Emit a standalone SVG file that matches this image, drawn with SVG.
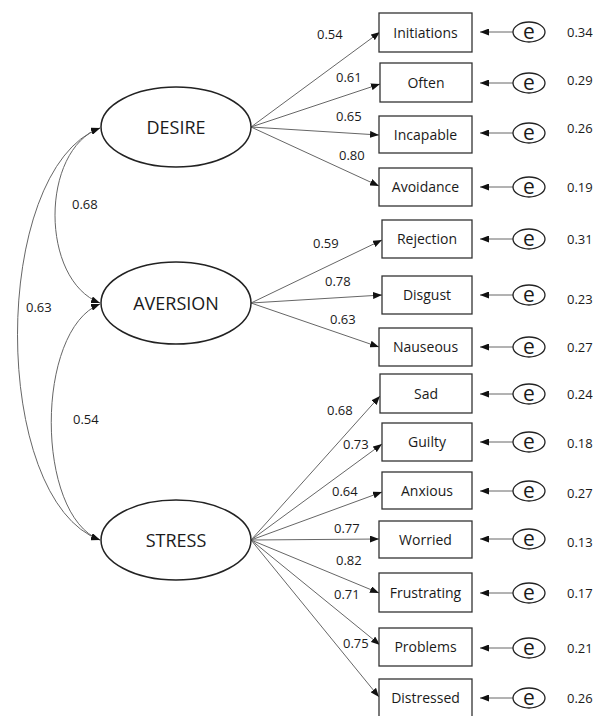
<svg xmlns="http://www.w3.org/2000/svg" width="593" height="716" viewBox="0 0 593 716">
<style>
.bg{fill:#fff}
.lat{fill:#fff;stroke:#222;stroke-width:1.5}
.box{fill:#fff;stroke:#333;stroke-width:1.3}
.err{fill:#fff;stroke:#222;stroke-width:1.3}
.conn{fill:none;stroke:#666;stroke-width:1}
.t{font-family:"Open Sans","Liberation Sans",sans-serif;fill:#1a1a1a}
.lt{font-size:18px;text-anchor:middle}
.bt{font-size:14px;text-anchor:middle}
.et{font-size:21px;text-anchor:middle}
.nt{font-size:13px}
</style>
<defs>
<marker id="ah" markerUnits="userSpaceOnUse" markerWidth="9" markerHeight="7" refX="9" refY="3.5" orient="auto-start-reverse">
<path d="M0,0 L9,3.5 L0,7 z" fill="#111"/>
</marker>
</defs>
<rect class="bg" x="0" y="0" width="593" height="716"/>

<g id="connectors">
<path class="conn" d="M100,128 C40,150 40,280 100,303" marker-start="url(#ah)" marker-end="url(#ah)"/>
<path class="conn" d="M100,304 C35,330 35,515 100,540" marker-start="url(#ah)" marker-end="url(#ah)"/>
<path class="conn" d="M100,128 C-10,170 -10,500 100,540" marker-start="url(#ah)" marker-end="url(#ah)"/>

<line class="conn" x1="251" y1="127" x2="380" y2="32" marker-end="url(#ah)"/>
<line class="conn" x1="251" y1="127" x2="380" y2="84" marker-end="url(#ah)"/>
<line class="conn" x1="251" y1="127" x2="379" y2="135" marker-end="url(#ah)"/>
<line class="conn" x1="251" y1="127" x2="379" y2="186" marker-end="url(#ah)"/>

<line class="conn" x1="251" y1="303" x2="382" y2="240" marker-end="url(#ah)"/>
<line class="conn" x1="251" y1="303" x2="382" y2="295" marker-end="url(#ah)"/>
<line class="conn" x1="251" y1="303" x2="379" y2="347" marker-end="url(#ah)"/>

<line class="conn" x1="251" y1="540" x2="380" y2="396" marker-end="url(#ah)"/>
<line class="conn" x1="251" y1="540" x2="382" y2="444" marker-end="url(#ah)"/>
<line class="conn" x1="251" y1="540" x2="382" y2="492" marker-end="url(#ah)"/>
<line class="conn" x1="251" y1="540" x2="379" y2="539" marker-end="url(#ah)"/>
<line class="conn" x1="251" y1="540" x2="379" y2="593" marker-end="url(#ah)"/>
<line class="conn" x1="251" y1="540" x2="380" y2="645" marker-end="url(#ah)"/>
<line class="conn" x1="251" y1="540" x2="379" y2="697" marker-end="url(#ah)"/>

<line class="conn" x1="513" y1="32" x2="480" y2="32" marker-end="url(#ah)"/>
<line class="conn" x1="513" y1="83" x2="480" y2="83" marker-end="url(#ah)"/>
<line class="conn" x1="513" y1="133" x2="480" y2="133" marker-end="url(#ah)"/>
<line class="conn" x1="513" y1="187" x2="480" y2="187" marker-end="url(#ah)"/>
<line class="conn" x1="513" y1="239" x2="480" y2="239" marker-end="url(#ah)"/>
<line class="conn" x1="513" y1="295" x2="480" y2="295" marker-end="url(#ah)"/>
<line class="conn" x1="513" y1="347" x2="480" y2="347" marker-end="url(#ah)"/>
<line class="conn" x1="513" y1="394" x2="480" y2="394" marker-end="url(#ah)"/>
<line class="conn" x1="513" y1="442" x2="480" y2="442" marker-end="url(#ah)"/>
<line class="conn" x1="513" y1="491" x2="480" y2="491" marker-end="url(#ah)"/>
<line class="conn" x1="513" y1="539" x2="480" y2="539" marker-end="url(#ah)"/>
<line class="conn" x1="513" y1="593" x2="480" y2="593" marker-end="url(#ah)"/>
<line class="conn" x1="513" y1="648" x2="480" y2="648" marker-end="url(#ah)"/>
<line class="conn" x1="513" y1="698" x2="480" y2="698" marker-end="url(#ah)"/>

<g class="t nt">
<text x="72" y="209">0.68</text>
<text x="26" y="312">0.63</text>
<text x="73" y="424">0.54</text>
<text x="317" y="39">0.54</text>
<text x="336" y="82">0.61</text>
<text x="336" y="121">0.65</text>
<text x="339" y="160">0.80</text>
<text x="313" y="248">0.59</text>
<text x="325" y="286">0.78</text>
<text x="330" y="324">0.63</text>
<text x="327" y="415">0.68</text>
<text x="343" y="449">0.73</text>
<text x="332" y="496">0.64</text>
<text x="334" y="533">0.77</text>
<text x="336" y="565">0.82</text>
<text x="334" y="599">0.71</text>
<text x="343" y="648">0.75</text>
</g>
</g>

<g id="DESIRE"><ellipse class="lat" cx="176" cy="127" rx="75" ry="40"/><text class="t lt" x="176" y="133.5">DESIRE</text></g>
<g id="AVERSION"><ellipse class="lat" cx="176" cy="303" rx="75" ry="41"/><text class="t lt" x="176" y="309.5">AVERSION</text></g>
<g id="STRESS"><ellipse class="lat" cx="176" cy="540" rx="75" ry="40"/><text class="t lt" x="176" y="546.5">STRESS</text></g>

<g id="Initiations"><rect class="box" x="379" y="13" width="93" height="39"/><text class="t bt" x="425.5" y="37.5">Initiations</text></g>
<g id="Often"><rect class="box" x="380" y="63" width="92" height="39"/><text class="t bt" x="426" y="87.5">Often</text></g>
<g id="Incapable"><rect class="box" x="379" y="116" width="93" height="37"/><text class="t bt" x="425.5" y="139.5">Incapable</text></g>
<g id="Avoidance"><rect class="box" x="379" y="168" width="93" height="38"/><text class="t bt" x="425.5" y="192">Avoidance</text></g>
<g id="Rejection"><rect class="box" x="382" y="220" width="90" height="38"/><text class="t bt" x="427" y="244">Rejection</text></g>
<g id="Disgust"><rect class="box" x="382" y="276" width="90" height="38"/><text class="t bt" x="427" y="300">Disgust</text></g>
<g id="Nauseous"><rect class="box" x="379" y="328" width="93" height="38"/><text class="t bt" x="425.5" y="352">Nauseous</text></g>
<g id="Sad"><rect class="box" x="380" y="374" width="92" height="39"/><text class="t bt" x="426" y="398.5">Sad</text></g>
<g id="Guilty"><rect class="box" x="382" y="423" width="90" height="38"/><text class="t bt" x="427" y="447">Guilty</text></g>
<g id="Anxious"><rect class="box" x="382" y="472" width="90" height="37"/><text class="t bt" x="427" y="495.5">Anxious</text></g>
<g id="Worried"><rect class="box" x="379" y="521" width="93" height="37"/><text class="t bt" x="425.5" y="544.5">Worried</text></g>
<g id="Frustrating"><rect class="box" x="379" y="573" width="93" height="39"/><text class="t bt" x="425.5" y="597.5">Frustrating</text></g>
<g id="Problems"><rect class="box" x="379" y="628" width="93" height="38"/><text class="t bt" x="425.5" y="652">Problems</text></g>
<g id="Distressed"><rect class="box" x="379" y="679" width="93" height="39"/><text class="t bt" x="425.5" y="703">Distressed</text></g>

<g id="errors">
<g id="e1"><ellipse class="err" cx="529" cy="32" rx="16" ry="10"/><text class="t et" x="529" y="38.5">e</text><text class="t nt" x="567" y="37">0.34</text></g>
<g id="e2"><ellipse class="err" cx="529" cy="83" rx="16" ry="10"/><text class="t et" x="529" y="89.5">e</text><text class="t nt" x="567" y="85">0.29</text></g>
<g id="e3"><ellipse class="err" cx="529" cy="133" rx="16" ry="10"/><text class="t et" x="529" y="139.5">e</text><text class="t nt" x="567" y="133">0.26</text></g>
<g id="e4"><ellipse class="err" cx="529" cy="187" rx="16" ry="10"/><text class="t et" x="529" y="193.5">e</text><text class="t nt" x="567" y="192">0.19</text></g>
<g id="e5"><ellipse class="err" cx="529" cy="239" rx="16" ry="10"/><text class="t et" x="529" y="245.5">e</text><text class="t nt" x="567" y="244">0.31</text></g>
<g id="e6"><ellipse class="err" cx="529" cy="295" rx="16" ry="10"/><text class="t et" x="529" y="301.5">e</text><text class="t nt" x="567" y="304">0.23</text></g>
<g id="e7"><ellipse class="err" cx="529" cy="347" rx="16" ry="10"/><text class="t et" x="529" y="353.5">e</text><text class="t nt" x="567" y="352">0.27</text></g>
<g id="e8"><ellipse class="err" cx="529" cy="394" rx="16" ry="10"/><text class="t et" x="529" y="400.5">e</text><text class="t nt" x="567" y="399">0.24</text></g>
<g id="e9"><ellipse class="err" cx="529" cy="442" rx="16" ry="10"/><text class="t et" x="529" y="448.5">e</text><text class="t nt" x="567" y="448">0.18</text></g>
<g id="e10"><ellipse class="err" cx="529" cy="491" rx="16" ry="10"/><text class="t et" x="529" y="497.5">e</text><text class="t nt" x="567" y="498">0.27</text></g>
<g id="e11"><ellipse class="err" cx="529" cy="539" rx="16" ry="10"/><text class="t et" x="529" y="545.5">e</text><text class="t nt" x="567" y="547">0.13</text></g>
<g id="e12"><ellipse class="err" cx="529" cy="593" rx="16" ry="10"/><text class="t et" x="529" y="599.5">e</text><text class="t nt" x="567" y="598">0.17</text></g>
<g id="e13"><ellipse class="err" cx="529" cy="648" rx="16" ry="10"/><text class="t et" x="529" y="654.5">e</text><text class="t nt" x="567" y="653">0.21</text></g>
<g id="e14"><ellipse class="err" cx="529" cy="698" rx="16" ry="10"/><text class="t et" x="529" y="704.5">e</text><text class="t nt" x="567" y="703">0.26</text></g>
</g>
</svg>
